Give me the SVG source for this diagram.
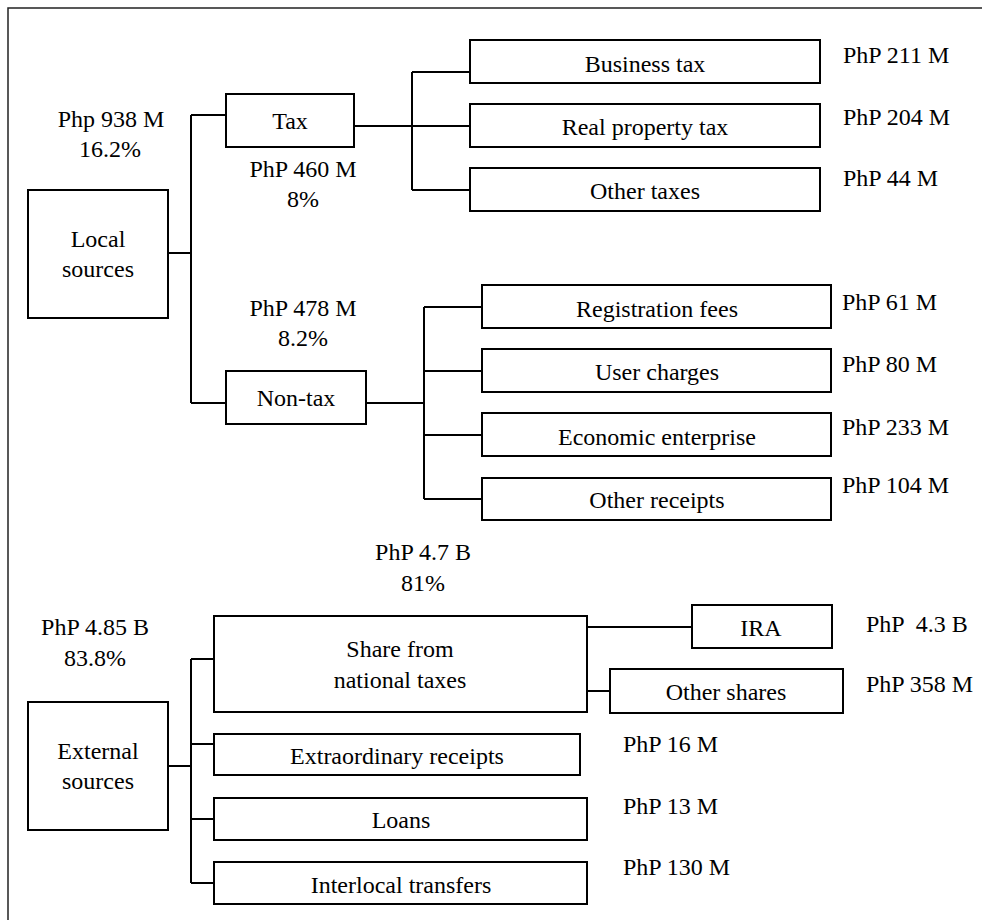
<svg xmlns="http://www.w3.org/2000/svg" width="982" height="920" viewBox="0 0 982 920">
<style>
.t{font-family:"Liberation Serif","Times New Roman",serif;font-size:24px;fill:#000}
.c{text-anchor:middle}
.box{fill:#fff;stroke:#000;stroke-width:2}
.ln{fill:none;stroke:#000;stroke-width:2}
</style>
<rect x="8" y="8" width="990" height="930" fill="#fff" stroke="#222" stroke-width="1.5"/>
<g id="connectors">
<path class="ln" d="M168,253 H191 M191,115 V403 M191,115 H226 M191,403 H226"/>
<path class="ln" d="M354,126 H470 M412,72 V190 M412,72 H470 M412,190 H470"/>
<path class="ln" d="M366,403 H424 M424,307 V499 M424,307 H482 M424,371 H482 M424,435 H482 M424,499 H482"/>
<path class="ln" d="M168,766 H191 M191,659 V883 M191,659 H214 M191,744 H214 M191,819 H214 M191,883 H214"/>
<path class="ln" d="M587,627 H692 M587,691 H610"/>
</g>
<g id="local">
<rect class="box" x="28" y="190" width="140" height="128"/>
<text class="t c" x="98" y="247">Local</text>
<text class="t c" x="98" y="277">sources</text>
</g>
<g id="local-label"><text class="t c" x="111" y="127">Php 938 M</text><text class="t c" x="110" y="157">16.2%</text></g>
<g id="tax">
<rect class="box" x="226" y="94" width="128" height="53"/>
<text class="t c" x="290" y="129">Tax</text>
</g>
<g id="tax-label"><text class="t c" x="303" y="177">PhP 460 M</text><text class="t c" x="303" y="207">8%</text></g>
<g id="business-tax"><rect class="box" x="470" y="40" width="350" height="43"/><text class="t c" x="645" y="72">Business tax</text><text class="t" x="843" y="63">PhP 211 M</text></g>
<g id="real-property-tax"><rect class="box" x="470" y="104" width="350" height="43"/><text class="t c" x="645" y="135">Real property tax</text><text class="t" x="843" y="125">PhP 204 M</text></g>
<g id="other-taxes"><rect class="box" x="470" y="168" width="350" height="43"/><text class="t c" x="645" y="199">Other taxes</text><text class="t" x="843" y="186">PhP 44 M</text></g>
<g id="nontax">
<rect class="box" x="226" y="371" width="140" height="53"/>
<text class="t c" x="296" y="406">Non-tax</text>
</g>
<g id="nontax-label"><text class="t c" x="303" y="316">PhP 478 M</text><text class="t c" x="303" y="346">8.2%</text></g>
<g id="registration-fees"><rect class="box" x="482" y="285" width="349" height="43"/><text class="t c" x="657" y="317">Registration fees</text><text class="t" x="842" y="310">PhP 61 M</text></g>
<g id="user-charges"><rect class="box" x="482" y="349" width="349" height="43"/><text class="t c" x="657" y="380">User charges</text><text class="t" x="842" y="372">PhP 80 M</text></g>
<g id="economic-enterprise"><rect class="box" x="482" y="413" width="349" height="43"/><text class="t c" x="657" y="445">Economic enterprise</text><text class="t" x="842" y="435">PhP 233 M</text></g>
<g id="other-receipts"><rect class="box" x="482" y="478" width="349" height="42"/><text class="t c" x="657" y="508">Other receipts</text><text class="t" x="842" y="493">PhP 104 M</text></g>
<g id="share-label"><text class="t c" x="423" y="560">PhP 4.7 B</text><text class="t c" x="423" y="591">81%</text></g>
<g id="external-label"><text class="t c" x="95" y="635">PhP 4.85 B</text><text class="t c" x="95" y="666">83.8%</text></g>
<g id="external">
<rect class="box" x="28" y="702" width="140" height="128"/>
<text class="t c" x="98" y="759">External</text>
<text class="t c" x="98" y="789">sources</text>
</g>
<g id="share"><rect class="box" x="214" y="616" width="373" height="96"/><text class="t c" x="400" y="657">Share from</text><text class="t c" x="400" y="688">national taxes</text></g>
<g id="ira"><rect class="box" x="692" y="605" width="140" height="43"/><text class="t c" x="761" y="636">IRA</text><text class="t" x="866" y="632" xml:space="preserve">PhP  4.3 B</text></g>
<g id="other-shares"><rect class="box" x="610" y="669" width="233" height="44"/><text class="t c" x="726" y="700">Other shares</text><text class="t" x="866" y="692">PhP 358 M</text></g>
<g id="extraordinary"><rect class="box" x="214" y="734" width="366" height="41"/><text class="t c" x="397" y="764">Extraordinary receipts</text><text class="t" x="623" y="752">PhP 16 M</text></g>
<g id="loans"><rect class="box" x="214" y="798" width="373" height="42"/><text class="t c" x="401" y="828">Loans</text><text class="t" x="623" y="814">PhP 13 M</text></g>
<g id="interlocal"><rect class="box" x="214" y="862" width="373" height="42"/><text class="t c" x="401" y="893">Interlocal transfers</text><text class="t" x="623" y="875">PhP 130 M</text></g>
</svg>
